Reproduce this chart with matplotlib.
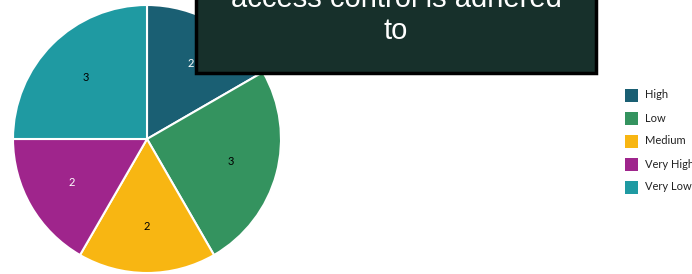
import matplotlib
matplotlib.use("Agg")
import matplotlib.pyplot as plt
from matplotlib.patches import Rectangle

categories = ["High", "Low", "Medium", "Very High", "Very Low"]
values = [2, 3, 2, 2, 3]
colors = ["#1a5f73", "#34935f", "#f8b612", "#9f258c", "#1f9aa2"]
label_colors = ["white", "black", "black", "white", "black"]
title_text = "access control is adhered\nto"

W, H = 692, 274
fig = plt.figure(figsize=(W / 100, H / 100), dpi=100)
fig.patch.set_facecolor("white")

cx, cy, r = 147, 139, 134
ax = fig.add_axes([(cx - r) / W, (H - cy - r) / H, 2 * r / W, 2 * r / H])
wedges, texts = ax.pie(values, colors=colors, startangle=90, counterclock=False,
                       labels=[str(v) for v in values], labeldistance=0.65,
                       wedgeprops=dict(edgecolor="white", linewidth=1.5),
                       textprops=dict(fontsize=8, family="Lato"))
for t, c in zip(texts, label_colors):
    t.set_color(c)
    t.set_ha("center")
    t.set_va("center")
ax.set_aspect("equal")
ax.set_xlim(-1, 1)
ax.set_ylim(-1, 1)
ax.axis("off")

# overlay title box
bx0, bx1, by_top = 196, 596, 73
fig.patches.append(Rectangle((bx0 / W, (H - by_top) / H), (bx1 - bx0) / W, 0.5,
                             transform=fig.transFigure, facecolor="#17302b",
                             edgecolor="black", linewidth=2.5, zorder=5))
fig.text((bx0 + bx1) / 2 / W, (H - 45) / H, title_text, ha="center", va="bottom",
         color="white", fontsize=21, family="Liberation Sans", linespacing=1.2,
         multialignment="center", zorder=6)

# legend
lx, ly0, dy, sq = 625, 95, 23, 13
for i, (cat, col) in enumerate(zip(categories, colors)):
    y = ly0 + i * dy
    fig.patches.append(Rectangle((lx / W, (H - y - sq / 2) / H), sq / W, sq / H,
                                 transform=fig.transFigure, facecolor=col,
                                 edgecolor="none"))
    fig.text((lx + 20) / W, (H - y) / H, cat, ha="left", va="center",
             fontsize=8, family="Lato", color="#222222")

fig.savefig("out.png", dpi=100)
